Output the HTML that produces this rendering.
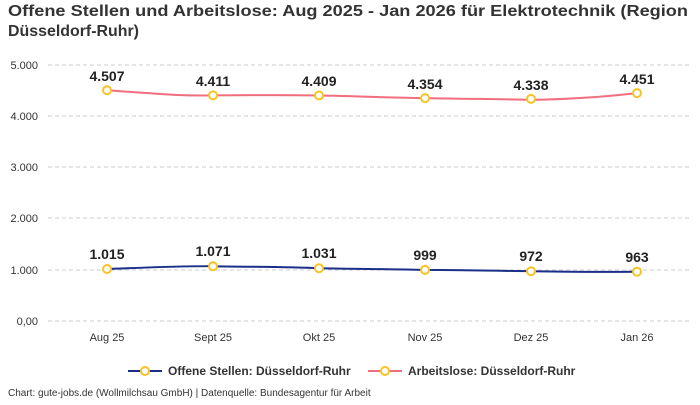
<!DOCTYPE html>
<html><head><meta charset="utf-8"><style>
body{margin:0;width:700px;height:400px;background:#fff;font-family:"Liberation Sans",sans-serif;overflow:hidden}
</style></head><body>
<svg width="700" height="400" xmlns="http://www.w3.org/2000/svg" font-family="Liberation Sans, sans-serif">
<text x="8" y="16" font-size="16" font-weight="bold" fill="#333" textLength="680" lengthAdjust="spacingAndGlyphs">Offene Stellen und Arbeitslose: Aug 2025 - Jan 2026 für Elektrotechnik (Region</text>
<text x="8" y="36" font-size="16" font-weight="bold" fill="#333" textLength="131" lengthAdjust="spacingAndGlyphs">Düsseldorf-Ruhr)</text>
<g stroke="#ccc" stroke-dasharray="4,3" stroke-width="1">
<line x1="48" x2="690" y1="65" y2="65"/><line x1="48" x2="690" y1="116" y2="116"/>
<line x1="48" x2="690" y1="167" y2="167"/><line x1="48" x2="690" y1="218" y2="218"/>
<line x1="48" x2="690" y1="270" y2="270"/><line x1="48" x2="690" y1="321" y2="321"/>
</g>
<g font-size="11" fill="#333" text-anchor="end">
<text x="38" y="69">5.000</text><text x="38" y="120">4.000</text><text x="38" y="171">3.000</text>
<text x="38" y="222">2.000</text><text x="38" y="274">1.000</text><text x="38" y="325">0,00</text>
</g>
<g font-size="11" fill="#333" text-anchor="middle">
<text x="107" y="341">Aug 25</text><text x="213" y="341">Sept 25</text><text x="319" y="341">Okt 25</text>
<text x="425" y="341">Nov 25</text><text x="531" y="341">Dez 25</text><text x="637" y="341">Jan 26</text>
</g>
<path d="M107,90.2 C160,94 180,96 213,95.4 C260,95 290,95 319,95.5 C360,96 390,98 425,98.1 C470,99 500,99 531,99.9 C580,99 610,96 637,93.1" fill="none" stroke="#f06e7e" stroke-width="2"/>
<path d="M107,269 C160,267 180,266 213,266.2 C260,267 290,267 319,268.2 C360,269 390,269 425,269.9 C470,270 500,271 531,271.2 C580,272 610,272 637,271.7" fill="none" stroke="#1a2f8a" stroke-width="2"/>
<g fill="#fff" stroke="#f7c325" stroke-width="2">
<circle cx="107" cy="90.2" r="4"/><circle cx="213" cy="95.4" r="4"/><circle cx="319" cy="95.5" r="4"/>
<circle cx="425" cy="98.1" r="4"/><circle cx="531" cy="98.9" r="4"/><circle cx="637" cy="93.1" r="4"/>
<circle cx="107" cy="269" r="4"/><circle cx="213" cy="266.2" r="4"/><circle cx="319" cy="268.2" r="4"/>
<circle cx="425" cy="269.9" r="4"/><circle cx="531" cy="271.2" r="4"/><circle cx="637" cy="271.7" r="4"/>
</g>
<g font-size="14" font-weight="bold" fill="#222" text-anchor="middle">
<text x="107" y="81">4.507</text><text x="213" y="86">4.411</text><text x="319" y="86">4.409</text>
<text x="425" y="89">4.354</text><text x="531" y="90">4.338</text><text x="637" y="84">4.451</text>
<text x="107" y="259">1.015</text><text x="213" y="256">1.071</text><text x="319" y="258">1.031</text>
<text x="425" y="260">999</text><text x="531" y="261">972</text><text x="637" y="262">963</text>
</g>
<line x1="128" x2="162" y1="371" y2="371" stroke="#1a2f8a" stroke-width="2"/>
<circle cx="145" cy="371" r="4" fill="#fff" stroke="#f7c325" stroke-width="2"/>
<text x="168" y="375" font-size="12" font-weight="bold" fill="#333">Offene Stellen: Düsseldorf-Ruhr</text>
<line x1="368" x2="402" y1="371" y2="371" stroke="#f06e7e" stroke-width="2"/>
<circle cx="385" cy="371" r="4" fill="#fff" stroke="#f7c325" stroke-width="2"/>
<text x="408" y="375" font-size="12" font-weight="bold" fill="#333">Arbeitslose: Düsseldorf-Ruhr</text>
<text x="8" y="396" font-size="10" fill="#333">Chart: gute-jobs.de (Wollmilchsau GmbH) | Datenquelle: Bundesagentur für Arbeit</text>
</svg>
</body></html>
